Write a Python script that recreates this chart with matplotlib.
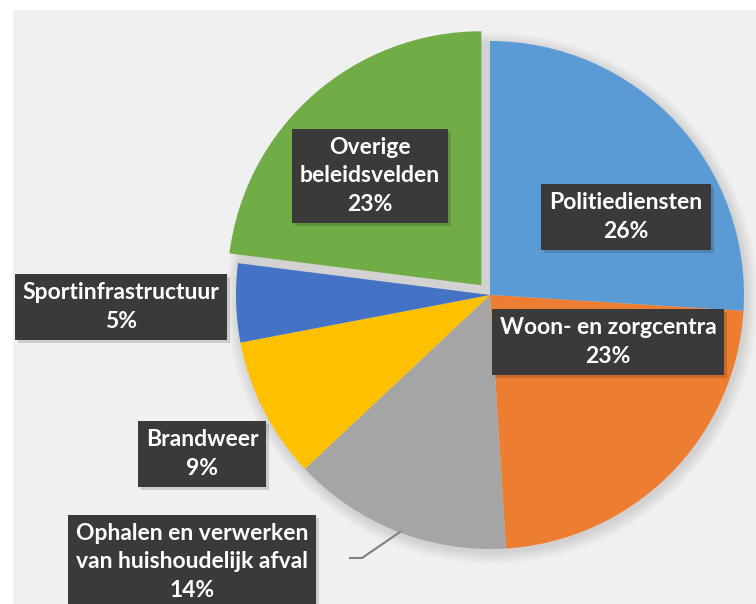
import matplotlib
matplotlib.use("Agg")
import matplotlib.pyplot as plt
from matplotlib.patches import Rectangle, Circle

# Data
labels = ["Politiediensten", "Woon- en zorgcentra",
          "Ophalen en verwerken\nvan huishoudelijk afval", "Brandweer",
          "Sportinfrastructuur", "Overige\nbeleidsvelden"]
shares = [26, 23, 14, 9, 5, 23]
colors = ["#5B9BD5", "#ED7D31", "#A5A5A5", "#FFC000", "#4472C4", "#70AD47"]

W, H = 756, 604
fig = plt.figure(figsize=(W / 100, H / 100), dpi=100)
fig.patch.set_facecolor("white")
ax = fig.add_axes([0, 0, 1, 1])

cx, cy, r = 490, H - 295, 254
# explode is in data units (pixels here), only the last slice is pulled out
explode = [0, 0, 0, 0, 0, 13]

# grey chart area
ax.add_patch(Rectangle((13, 0), W - 13, H - 10, fc="#F0F0F0", ec="none", zorder=0))

# soft shadow behind the pie
for i in range(10):
    ax.add_patch(Circle((cx + 2, cy - 3), r + 1 + i * 1.2, fc="black",
                        ec="none", alpha=0.012, zorder=1))

wedges, _ = ax.pie(shares, colors=colors, startangle=90, counterclock=False,
                   explode=explode, center=(cx, cy), radius=r, frame=True,
                   wedgeprops=dict(linewidth=0))
for w in wedges:
    w.set_zorder(2)

ax.set_xlim(0, W)
ax.set_ylim(0, H)
ax.set_aspect("equal")
ax.axis("off")

# label positions (pixel centers of the boxes)
label_pos = [(626, 217), (608, 342), (192, 562), (202, 454), (121, 307), (370, 176)]
texts = []
for lab, s, (x, y) in zip(labels, shares, label_pos):
    t = ax.text(x, H - y, f"{lab}\n{s}%", ha="center", va="center",
                family=["Lato", "DejaVu Sans"], fontweight="bold",
                fontsize=16.5, color="white", linespacing=1.45, zorder=5,
                bbox=dict(boxstyle="square,pad=0.35", fc="#3A3A3A", ec="none"))
    texts.append(t)

# drop shadow under each label box
fig.canvas.draw()
inv = ax.transData.inverted()
for t in texts:
    bb = t.get_bbox_patch().get_window_extent()
    (x0, y0), (x1, y1) = inv.transform([[bb.x0, bb.y0], [bb.x1, bb.y1]])
    ax.add_patch(Rectangle((x0 + 3, y0 - 3), x1 - x0, y1 - y0, fc="black",
                           ec="none", alpha=0.15, zorder=4))

# leader line for the grey slice
ax.plot([400, 362, 350], [H - 532, H - 558, H - 558], color="#7F7F7F", lw=1.5, zorder=3)

fig.savefig("out.png", dpi=100)
